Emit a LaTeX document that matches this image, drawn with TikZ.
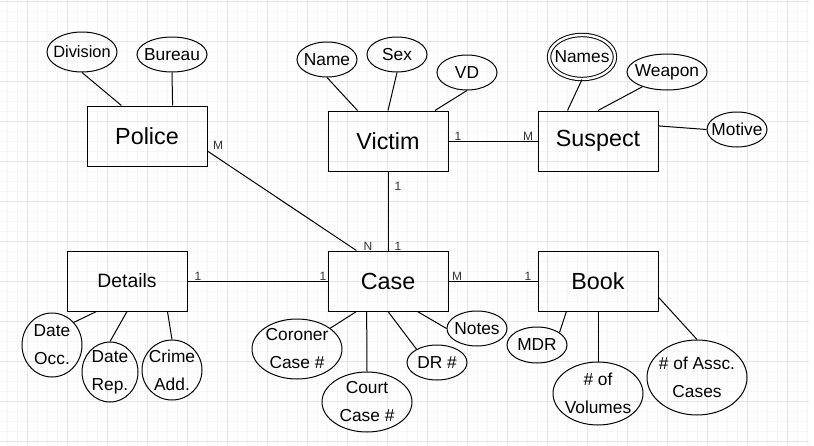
\documentclass[tikz,border=0pt]{standalone}
\usepackage{fontspec}
\setmainfont{Liberation Sans}
\usepackage{tikz}
\usetikzlibrary{shapes}
\definecolor{gridminor}{HTML}{F6F6F6}
\definecolor{gridmajor}{HTML}{E6E6E6}
\begin{document}
\begin{tikzpicture}[x=0.75pt,y=-0.75pt,
  entity/.style={draw,rectangle,line width=0.75pt,minimum width=90pt,minimum height=45pt,inner sep=0pt,font=\fontsize{17.5}{20}\selectfont},
  attr/.style={draw,ellipse,line width=0.75pt,inner sep=-12pt,align=center,font=\fontsize{13}{21}\selectfont},
  card/.style={inner sep=0pt,text=black!80,font=\fontsize{9}{10}\selectfont},
  conn/.style={line width=0.75pt}]

\useasboundingbox (0,0) rectangle (814,446);
\foreach \x in {7,17,...,807} \draw[gridminor,line width=0.75pt] (\x,0) -- (\x,446);
\foreach \y in {1,11,...,441} \draw[gridminor,line width=0.75pt] (0,\y) -- (809,\y);
\foreach \x in {27,67,...,787} \draw[gridmajor,line width=0.75pt] (\x,0) -- (\x,446);
\foreach \y in {1,41,...,441} \draw[gridmajor,line width=0.75pt] (0,\y) -- (809,\y);

\node (Police) at (147,136)[entity] {Police};
\node (Victim) at (388,141)[entity] {Victim};
\node (Suspect) at (598,141)[entity] {Suspect};
\node (Details) at (127,281)[entity,font=\fontsize{14.5}{16}\selectfont] {Details};
\node (Case) at (388,281)[entity] {Case};
\node (Book) at (598,281)[entity] {Book};

\node (Division) at (82,52)[attr,minimum width=52.5pt,minimum height=30pt,font=\fontsize{12.3}{14}\selectfont] {Division};
\node (Bureau) at (172,54.5)[attr,minimum width=52.5pt,minimum height=26.25pt] {Bureau};
\node (Name) at (327,59.5)[attr,minimum width=45pt,minimum height=26.25pt] {Name};
\node (Sex) at (397,54.5)[attr,minimum width=45pt,minimum height=26.25pt] {Sex};
\node (VD) at (467,72.5)[attr,minimum width=45pt,minimum height=26.25pt] {VD};
\node (Names) at (582,57)[attr,double,double distance=1.8pt,minimum width=49.5pt,minimum height=33pt] {Names};
\node (Weapon) at (667,72)[attr,minimum width=60pt,minimum height=27pt] {Weapon};
\node (Motive) at (737,129.5)[attr,minimum width=45pt,minimum height=26.25pt] {Motive};
\node (DateOcc) at (52,345)[attr,minimum width=45pt,minimum height=48pt] {Date\\Occ.};
\node (DateRep) at (110,372)[attr,minimum width=42pt,minimum height=45pt] {Date\\Rep.};
\node (CrimeAdd) at (172,370)[attr,minimum width=45pt,minimum height=45pt] {Crime\\Add.};
\node (Coroner) at (297,349)[attr,minimum width=67.5pt,minimum height=45pt] {Coroner\\Case \#};
\node (Court) at (367,402)[attr,minimum width=67.5pt,minimum height=45pt] {Court\\Case \#};
\node (DR) at (437,362.5)[attr,minimum width=45pt,minimum height=26.25pt] {DR \#};
\node (Notes) at (477,328.5)[attr,minimum width=45pt,minimum height=26.25pt] {Notes};
\node (MDR) at (537,345)[attr,minimum width=45pt,minimum height=27pt] {MDR};
\node (Volumes) at (598,393.5)[attr,minimum width=67.5pt,minimum height=47.25pt] {\# of\\Volumes};
\node (Assc) at (697,377.5)[attr,minimum width=75pt,minimum height=56.25pt] {\# of Assc.\\Cases};

\draw [conn] (Division.south) to (Police.130);
\draw [conn] (Bureau.south) to (Police.50);
\draw [conn] (Name.south) to (Victim.135);
\draw [conn] (Sex.south) to (Victim.north);
\draw [conn] (VD.south) to (Victim.33);
\draw [conn] (Names.south) to (Suspect.135);
\draw [conn] (Weapon.211) to (Suspect.north);
\draw [conn] (Suspect.14) to (Motive.west);
\draw [conn] (DateOcc.46) to (Details.225);
\draw [conn] (DateRep.north) to (Details.south);
\draw [conn] (CrimeAdd.north) to (Details.-37);
\draw [conn] (Coroner.32) to (Case.224);
\draw [conn] (Court.north) to (Case.235);
\draw [conn] (DR.147) to (Case.south);
\draw [conn] (Notes.west) to (Case.-46);
\draw [conn] (MDR.29) to (Book.224);
\draw [conn] (Volumes.north) to (Book.south);
\draw [conn] (Book.-15) to (Assc.north);

\draw [conn] (Police.-14) to (Case.136);
\draw [conn] (Victim) to (Suspect);
\draw [conn] (Victim) to (Case);
\draw [conn] (Details) to (Case);
\draw [conn] (Case) to (Book);

\node (PoliceM) at (218,145)[card] {M};
\node (VictimS1) at (458,136)[card] {1};
\node (SuspectM) at (528,136)[card] {M};
\node (VictimC1) at (398,186)[card] {1};
\node (CaseV1) at (398,246)[card] {1};
\node (CaseN) at (368,246)[card] {N};
\node (Details1) at (198,276)[card] {1};
\node (CaseD1) at (323,276)[card] {1};
\node (CaseM) at (457,276)[card] {M};
\node (Book1) at (528,276)[card] {1};
\end{tikzpicture}
\end{document}
